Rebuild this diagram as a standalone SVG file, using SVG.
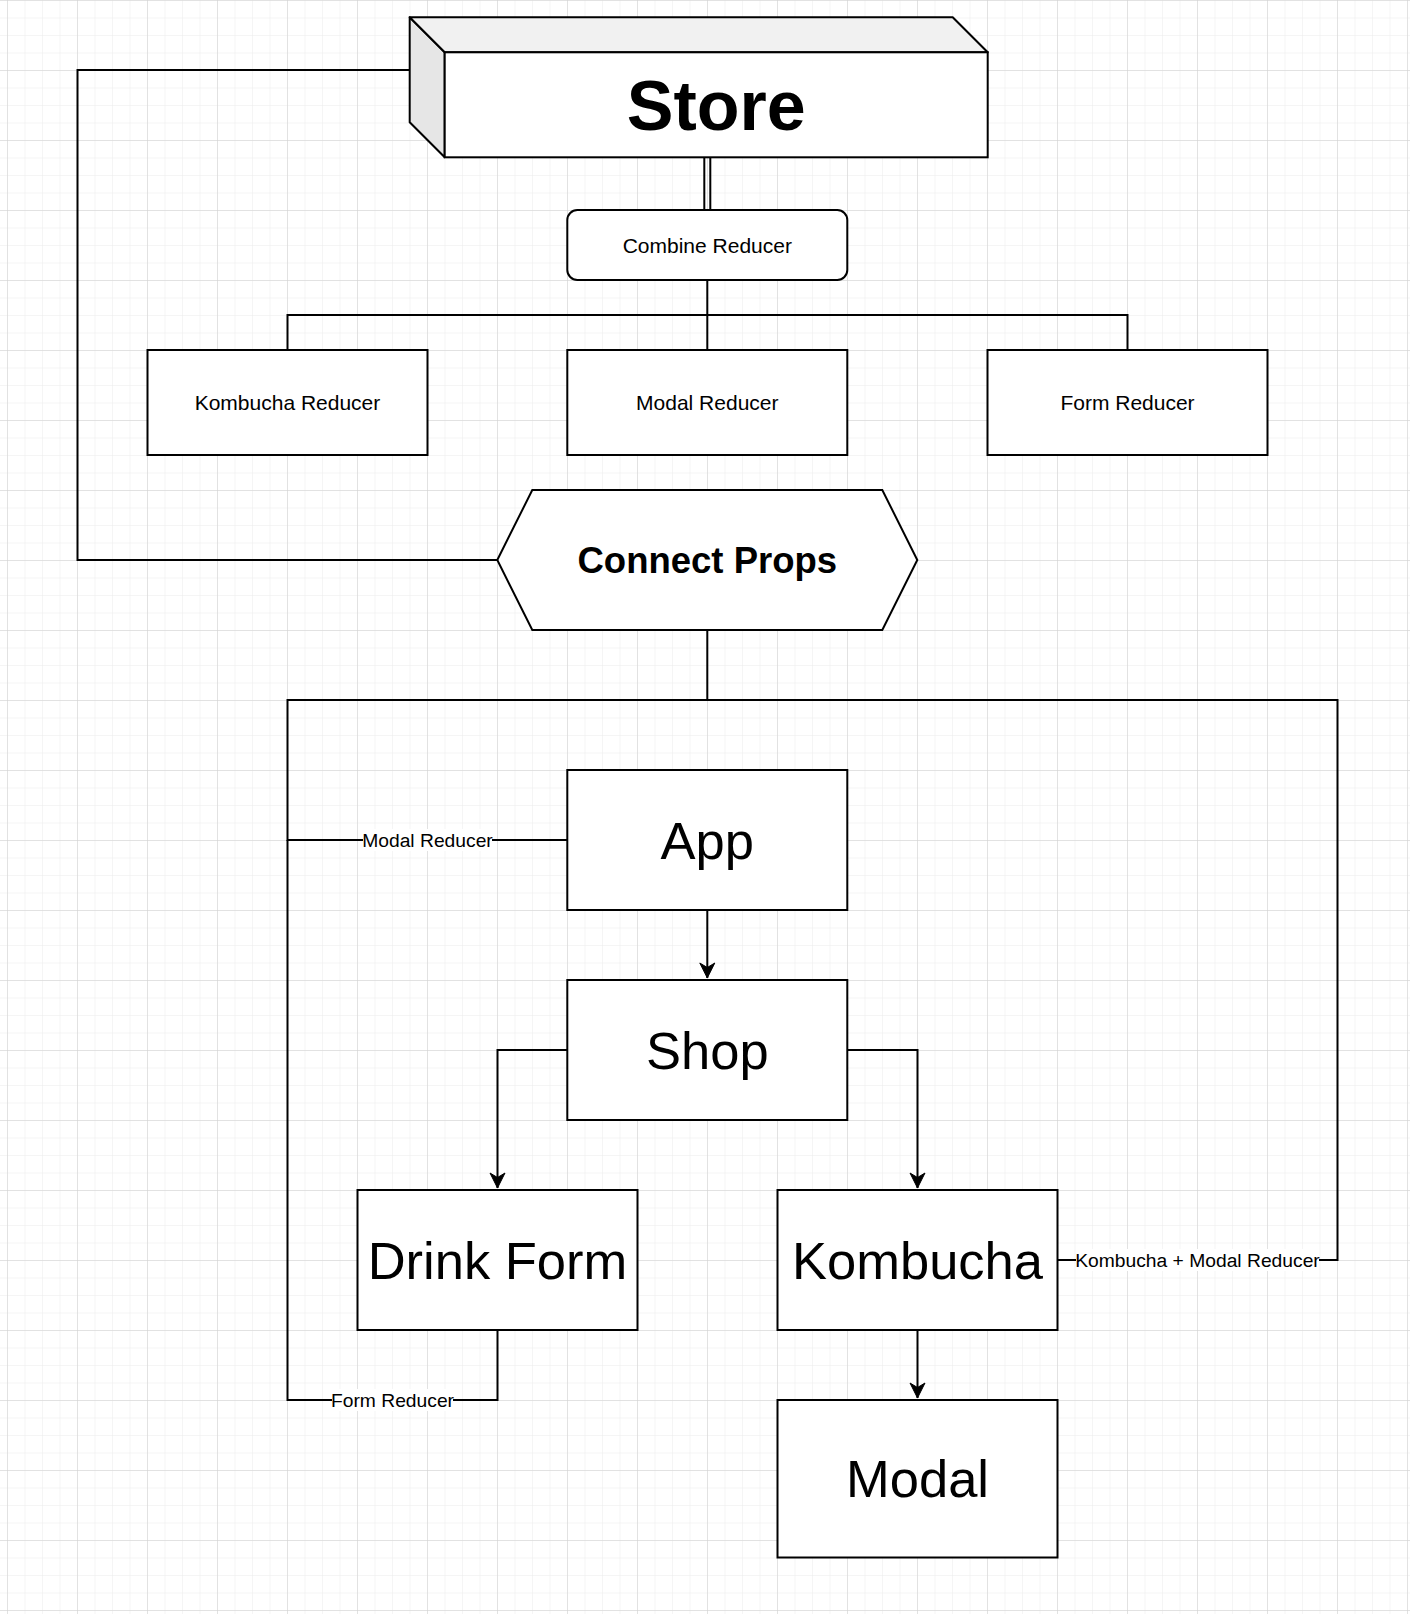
<svg xmlns="http://www.w3.org/2000/svg" width="1410" height="1614" viewBox="0 0 1410 1614">
<defs>
<pattern id="gMinor" width="17.5" height="17.5" patternUnits="userSpaceOnUse" x="7" y="0">
<path d="M0 0H17.5M0 0V17.5" fill="none" stroke="#ececec" stroke-width="1"/>
</pattern>
<pattern id="gMajor" width="70" height="70" patternUnits="userSpaceOnUse" x="7" y="0">
<path d="M0 0H70M0 0V70" fill="none" stroke="#d0d0d0" stroke-width="1"/>
</pattern>
<marker id="arr" viewBox="-16 -10 20 20" markerWidth="20" markerHeight="20" refX="0" refY="0" orient="auto" markerUnits="userSpaceOnUse">
<path d="M0 0L-15 -7.5L-10.5 0L-15 7.5Z" fill="#000" stroke="#000" stroke-width="1" stroke-linejoin="miter"/>
</marker>
<style>
.box{fill:#fff;stroke:#000;stroke-width:2}
.ln{fill:none;stroke:#000;stroke-width:2}
.t{font-family:"Liberation Sans",Arial,sans-serif;text-anchor:middle;fill:#000}
.s21{font-size:21px}
.s19{font-size:19.25px}
.big{font-size:52.5px}
.lbg{fill:#fff}
</style>
</defs>
<rect width="1410" height="1614" fill="#fff"/>
<rect width="1410" height="1614" fill="url(#gMinor)"/>
<rect width="1410" height="1614" fill="url(#gMajor)"/>

<g id="connectors">
<line class="ln" x1="704.3" y1="157.3" x2="704.3" y2="210"/>
<line class="ln" x1="710.3" y1="157.3" x2="710.3" y2="210"/>
<path class="ln" d="M707.3 280V315H287.5V350"/>
<path class="ln" d="M707.3 315V350"/>
<path class="ln" d="M707.3 315H1127.5V350"/>
<path class="ln" d="M409.7 70H77.5V560H497.3"/>
<path class="ln" d="M707.3 630V700H287.5V840H567.3"/>
<path class="ln" d="M707.3 700H1337.5V1260H1057.5"/>
<path class="ln" d="M287.5 840V1400H497.5V1330"/>
<path class="ln" d="M707.3 910V978" marker-end="url(#arr)"/>
<path class="ln" d="M567.3 1050H497.5V1188" marker-end="url(#arr)"/>
<path class="ln" d="M847.3 1050H917.5V1188" marker-end="url(#arr)"/>
<path class="ln" d="M917.5 1330V1398" marker-end="url(#arr)"/>
<rect class="lbg" x="363" y="829" width="129" height="22"/>
<text class="t s19" x="427.5" y="847">Modal Reducer</text>
<rect class="lbg" x="332" y="1389" width="121" height="22"/>
<text class="t s19" x="392.5" y="1407">Form Reducer</text>
<rect class="lbg" x="1076" y="1249" width="243" height="22"/>
<text class="t s19" x="1197.5" y="1267">Kombucha + Modal Reducer</text>
</g>

<g id="store">
<polygon points="409.7,17.3 444.7,52.3 444.7,157.3 409.7,122.3" fill="#e6e6e6" stroke="#000" stroke-width="2" stroke-linejoin="round"/>
<polygon points="409.7,17.3 952.7,17.3 987.7,52.3 444.7,52.3" fill="#f1f1f1" stroke="#000" stroke-width="2" stroke-linejoin="round"/>
<rect class="box" x="444.7" y="52.3" width="543" height="105"/>
<text class="t" x="716.2" y="129.5" font-size="70" font-weight="bold">Store</text>
</g>

<g id="combine-reducer">
<rect class="box" x="567.3" y="210" width="280" height="70" rx="10" ry="10"/>
<text class="t s21" x="707.3" y="252.5">Combine Reducer</text>
</g>

<g id="kombucha-reducer">
<rect class="box" x="147.5" y="350" width="280" height="105"/>
<text class="t s21" x="287.5" y="410">Kombucha Reducer</text>
</g>

<g id="modal-reducer">
<rect class="box" x="567.3" y="350" width="280" height="105"/>
<text class="t s21" x="707.3" y="410">Modal Reducer</text>
</g>

<g id="form-reducer">
<rect class="box" x="987.5" y="350" width="280" height="105"/>
<text class="t s21" x="1127.5" y="410">Form Reducer</text>
</g>

<g id="connect-props">
<polygon class="box" points="497.3,560 532.3,490 882.3,490 917.3,560 882.3,630 532.3,630"/>
<text class="t" x="707.3" y="572.5" font-size="36.5" font-weight="bold">Connect Props</text>
</g>

<g id="app">
<rect class="box" x="567.3" y="770" width="280" height="140"/>
<text class="t big" x="707.3" y="858.5">App</text>
</g>

<g id="shop">
<rect class="box" x="567.3" y="980" width="280" height="140"/>
<text class="t big" x="707.3" y="1068.5">Shop</text>
</g>

<g id="drink-form">
<rect class="box" x="357.5" y="1190" width="280" height="140"/>
<text class="t big" x="497.5" y="1278.5">Drink Form</text>
</g>

<g id="kombucha">
<rect class="box" x="777.5" y="1190" width="280" height="140"/>
<text class="t big" x="917.5" y="1278.5">Kombucha</text>
</g>

<g id="modal">
<rect class="box" x="777.5" y="1400" width="280" height="157.5"/>
<text class="t big" x="917.5" y="1497">Modal</text>
</g>
</svg>
